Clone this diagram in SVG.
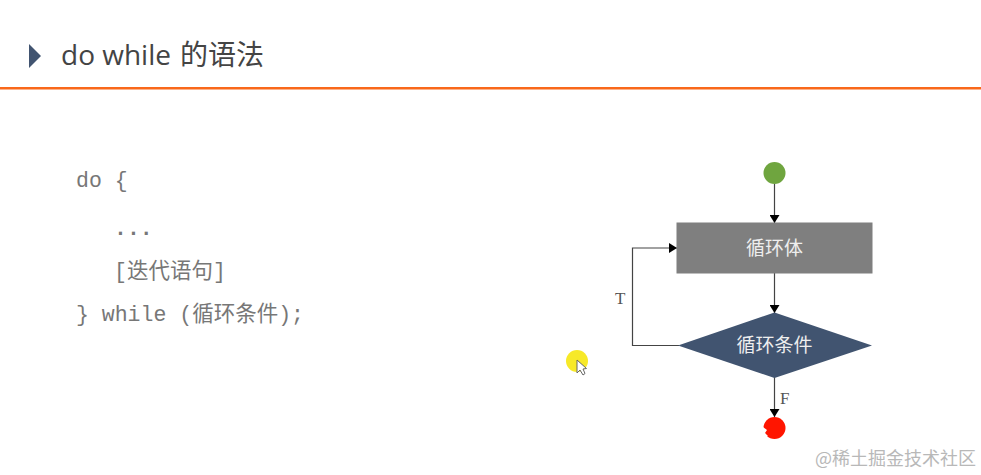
<svg xmlns="http://www.w3.org/2000/svg" width="981" height="475" viewBox="0 0 981 475">
<style>
.code{font-family:"Liberation Mono","Noto Sans CJK SC",monospace;font-size:21.500px;fill:#777777}
.cjk{font-family:"Noto Sans CJK SC",sans-serif;font-size:21.500px}
.node{font-family:"Noto Sans CJK SC",sans-serif;font-size:19px;fill:#eeeeee;text-anchor:middle}
.lab{font-family:"Liberation Serif",serif;font-size:17px;fill:#555555}
.line{fill:none;stroke:#444444;stroke-width:1.2}
</style>
<defs>
<marker id="arrow" markerUnits="userSpaceOnUse" markerWidth="10" markerHeight="10" refX="9" refY="5" orient="auto"><path d="M1 0 L9 5 L1 10 Z" fill="#000"/></marker>
</defs>
<rect width="981" height="475" fill="#ffffff"/>
<g id="title">
<path d="M29 44 L41 56 L29 68 Z" fill="#415470"/>
<text x="61" y="65" font-family="Open Sans,Noto Sans CJK SC,sans-serif" font-size="28" fill="#444444">do while</text>
<text x="180" y="65" font-family="Noto Sans CJK SC,sans-serif" font-size="28" fill="#444444">的语法</text>
<rect x="0" y="87" width="981" height="2.500" fill="#f9681a"/>
</g>
<g id="code">
<text class="code" x="76" y="187">do {</text>
<text class="code" x="114" y="235" font-weight="bold">...</text>
<text class="code" x="114" y="278">[<tspan class="cjk">迭代语句</tspan>]</text>
<text class="code" x="76" y="321">} while (<tspan class="cjk">循环条件</tspan>);</text>
</g>
<g id="connectors">
<path class="line" d="M774.500 184 V223" marker-end="url(#arrow)"/>
<path class="line" d="M774.500 273 V313" marker-end="url(#arrow)"/>
<path class="line" d="M679 345.500 H632.500 V248 H677" marker-end="url(#arrow)"/>
<path class="line" d="M774.500 377 V417" marker-end="url(#arrow)"/>
</g>
<g id="start"><circle cx="774.500" cy="173" r="11" fill="#6fa53f"/></g>
<g id="body"><rect x="676.500" y="222.500" width="196" height="51" fill="#7f7f7f"/><text class="node" x="774.500" y="255">循环体</text></g>
<g id="cond"><path d="M678 345.500 L774.500 312.500 L872 345.500 L774.500 378 Z" fill="#415470"/><text class="node" x="774.500" y="352">循环条件</text></g>
<g id="end"><circle cx="774.500" cy="428" r="11" fill="#ff1500"/><path d="M763 427 L767 430 L765 433 L768 436 L762 436 Z" fill="#ffffff"/></g>
<text class="lab" x="615" y="304">T</text>
<text class="lab" x="780" y="404">F</text>
<g id="cursor">
<circle cx="577" cy="361" r="11" fill="#f7e928"/>
<path d="M577 360 L577 373 L580 370 L583 375 L585 373.500 L583 369 L586.500 368.500 Z" fill="#ffffff" stroke="#666666" stroke-width="1"/>
</g>
<text x="815" y="465" font-family="Noto Sans CJK SC,sans-serif" font-size="18" fill="#b8b8b8">@稀土掘金技术社区</text>
</svg>
